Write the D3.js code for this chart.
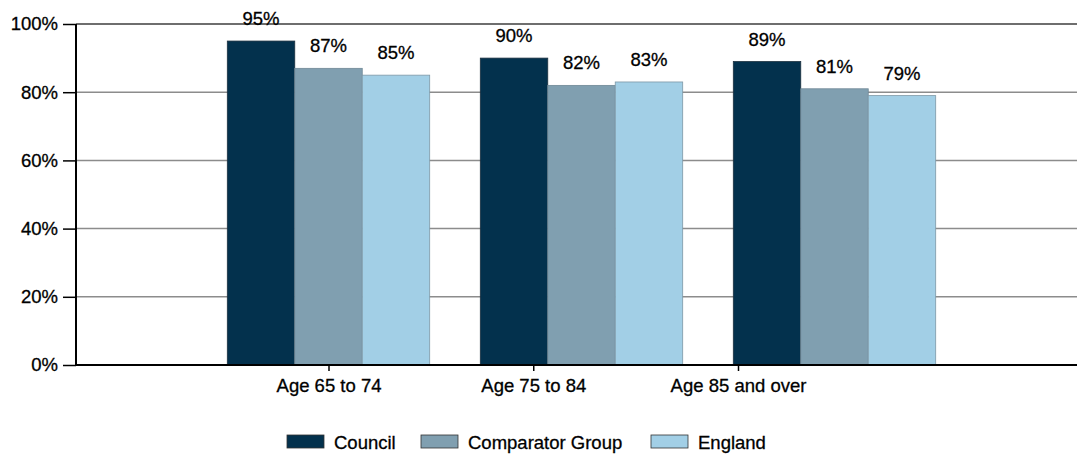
<!DOCTYPE html>
<html>
<head>
<meta charset="utf-8">
<script src="https://cdn.jsdelivr.net/npm/d3@7"></script>
<style>
  html, body { margin: 0; padding: 0; background: #fff; }
  svg text { font-family: "Liberation Sans", Arial, sans-serif; fill: #000; stroke: #000; stroke-width: 0.3px; }
</style>
</head>
<body>
<svg id="chart" width="1078" height="457"></svg>
<script>
// Age bands and the three comparison series (percent)
const categories = ["Age 65 to 74", "Age 75 to 84", "Age 85 and over"];
const seriesNames = ["Council", "Comparator Group", "England"];
const councilValues = [95, 90, 89];
const comparatorValues = [87, 82, 81];
const englandValues = [85, 83, 79];
const yTicks = [0, 20, 40, 60, 80, 100];

const colors = {
  "Council": "#03314d",
  "Comparator Group": "#809fb0",
  "England": "#a2cfe6"
};
const strokes = {
  "Council": "#1d3140",
  "Comparator Group": "#6f8896",
  "England": "#7e98a6"
};
const fontSize = 18.5;

const seriesValues = [councilValues, comparatorValues, englandValues];
const rows = categories.map((c, i) => ({
  category: c,
  values: seriesNames.map((s, j) => ({ series: s, value: seriesValues[j][i] }))
}));

const svg = d3.select("#chart");
const plotLeft = 76, plotRight = 1077, plotTop = 24, plotBottom = 365;

const y = d3.scaleLinear().domain([0, 100]).range([plotBottom, plotTop]);

const x0 = d3.scaleBand()
  .domain(categories)
  .range([202, 961])
  .paddingInner(0.2)
  .paddingOuter(0.1);

const x1 = d3.scaleBand()
  .domain(seriesNames)
  .range([0, x0.bandwidth()])
  .padding(0);

// category label positions along the axis
const xLabel = d3.scalePoint()
  .domain(categories)
  .range([x0(categories[0]) + x0.bandwidth() / 2, 738]);

// horizontal gridlines
svg.append("g")
  .selectAll("line")
  .data(yTicks.filter(t => t > 0))
  .join("line")
  .attr("x1", plotLeft).attr("x2", plotRight)
  .attr("y1", d => y(d)).attr("y2", d => y(d))
  .attr("stroke", d => d === 100 ? "#6e6e6e" : "#8c8c8c")
  .attr("stroke-width", d => d === 100 ? 2 : 1.5);

// bars
const groups = svg.append("g")
  .selectAll("g")
  .data(rows)
  .join("g")
  .attr("transform", d => `translate(${x0(d.category)},0)`);

groups.selectAll("rect")
  .data(d => d.values)
  .join("rect")
  .attr("x", d => x1(d.series))
  .attr("y", d => y(d.value))
  .attr("width", x1.bandwidth())
  .attr("height", d => y(0) - y(d.value))
  .attr("fill", d => colors[d.series])
  .attr("stroke", d => strokes[d.series])
  .attr("stroke-width", 0.8);

// value labels
groups.selectAll("text")
  .data(d => d.values)
  .join("text")
  .attr("x", d => x1(d.series) + x1.bandwidth() / 2)
  .attr("y", d => y(d.value) - 16)
  .attr("text-anchor", "middle")
  .attr("font-size", fontSize)
  .text(d => d.value + "%");

// y axis
const yAxis = d3.axisLeft(y)
  .tickValues(yTicks)
  .tickFormat(d => d + "%")
  .tickSize(13)
  .tickPadding(5);

const yg = svg.append("g")
  .attr("transform", `translate(${plotLeft},0)`)
  .call(yAxis);
yg.select(".domain").remove();
yg.selectAll(".tick line").attr("stroke", "#000").attr("stroke-width", 1.5);
yg.selectAll(".tick text")
  .attr("font-size", fontSize)
  .attr("font-family", "Liberation Sans, Arial, sans-serif")
  .attr("fill", "#000");

svg.append("line")
  .attr("x1", plotLeft).attr("x2", plotLeft)
  .attr("y1", plotTop).attr("y2", plotBottom + 1)
  .attr("stroke", "#000").attr("stroke-width", 2);

// x axis
const xAxis = d3.axisBottom(xLabel)
  .tickSize(6)
  .tickPadding(8);
const xg = svg.append("g")
  .attr("transform", `translate(0,${plotBottom})`)
  .call(xAxis);
xg.select(".domain").remove();
xg.selectAll(".tick line").attr("stroke", "#000").attr("stroke-width", 1.5);
xg.selectAll(".tick text")
  .attr("font-size", fontSize)
  .attr("font-family", "Liberation Sans, Arial, sans-serif")
  .attr("fill", "#000");

svg.append("line")
  .attr("x1", plotLeft - 1).attr("x2", plotRight)
  .attr("y1", plotBottom).attr("y2", plotBottom)
  .attr("stroke", "#000").attr("stroke-width", 2);

// legend
const legendX = d3.scaleOrdinal()
  .domain(seriesNames)
  .range([287, 421, 651]);

const legend = svg.append("g")
  .selectAll("g")
  .data(seriesNames)
  .join("g")
  .attr("transform", d => `translate(${legendX(d)},435)`);

legend.append("rect")
  .attr("width", 37)
  .attr("height", 13)
  .attr("fill", d => colors[d])
  .attr("stroke", "#333")
  .attr("stroke-width", 0.8);

legend.append("text")
  .attr("x", 47)
  .attr("y", 13.5)
  .attr("font-size", fontSize)
  .text(d => d);
</script>
</body>
</html>
